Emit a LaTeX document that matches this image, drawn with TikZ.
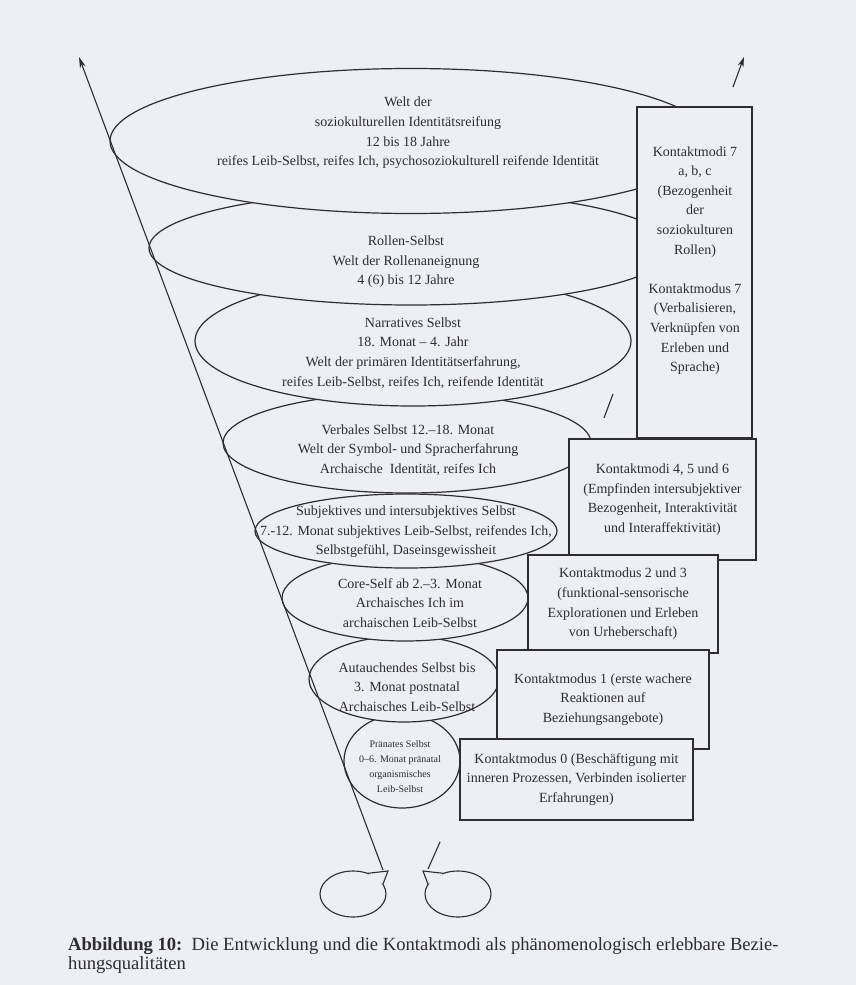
\documentclass[tikz,border=0pt]{standalone}
\usepackage{fontspec}
\setmainfont{Liberation Serif}
\usetikzlibrary{shapes.geometric,arrows.meta}
\definecolor{paper}{RGB}{237,239,245}
\definecolor{ink}{RGB}{45,45,50}
\begin{document}
\begin{tikzpicture}[x=1pt,y=-1pt,
  lay/.style={ellipse,draw=ink,fill=paper,line width=1.2pt,inner sep=0pt,outer sep=0pt},
  lbl/.style={align=center,text=ink,font=\fontsize{14}{19.6}\selectfont,inner sep=0pt},
  smalllbl/.style={align=center,text=ink,font=\fontsize{10}{15}\selectfont,inner sep=0pt},
  modebox/.style={draw=ink,fill=paper,line width=1.2pt,inner sep=0pt,outer sep=0pt,align=center,text=ink,font=\fontsize{14}{19.6}\selectfont},
  cone/.style={draw=ink,line width=1.1pt},
  bubble/.style={ellipse,draw=ink,line width=1.1pt,inner sep=0pt,outer sep=0pt,minimum width=66,minimum height=46},
]
\fill[paper] (0,0) rectangle (856,985);
\useasboundingbox (0,0) rectangle (856,985);

% layers, drawn from the bottom up so the upper ones cover the lower ones
\node[lay,minimum width=116,minimum height=94] (e8) at (402,761) {};
\node[lay,minimum width=190,minimum height=86] (e7) at (404,679) {};
\node[lay,minimum width=246,minimum height=86] (e6) at (405,598) {};
\node[lay,minimum width=302,minimum height=74] (e5) at (406,531) {};
\node[lay,minimum width=368,minimum height=100] (e4) at (407,443) {};
\node[lay,minimum width=436,minimum height=130] (e3) at (413,341) {};
\node[lay,minimum width=524,minimum height=114] (e2) at (411,248) {};
\node[lay,minimum width=602,minimum height=145] (e1) at (411,141) {};

\node[lbl] (t1) at (408,133) {Welt der\\soziokulturellen Identitätsreifung\\12 bis 18 Jahre\\reifes Leib-Selbst, reifes Ich, psychosoziokulturell reifende Identität};
\node[lbl] (t2) at (406,262) {Rollen-Selbst\\Welt der Rollenaneignung\\4 (6) bis 12 Jahre};
\node[lbl] (t3) at (413,353) {Narratives Selbst\\18. Monat – 4. Jahr\\Welt der primären Identitätserfahrung,\\reifes Leib-Selbst, reifes Ich, reifende Identität};
\node[lbl] (t4) at (408,450) {Verbales Selbst 12.–18. Monat\\Welt der Symbol- und Spracherfahrung\\Archaische\ \ Identität, reifes Ich};
\node[lbl] (t5) at (406,532) {Subjektives und intersubjektives Selbst\\7.-12. Monat subjektives Leib-Selbst, reifendes Ich,\\Selbstgefühl, Daseinsgewissheit};
\node[lbl] (t6) at (410,603) {Core-Self ab 2.–3. Monat\\Archaisches Ich im\\archaischen Leib-Selbst};
\node[lbl] (t7) at (407,687) {Autauchendes Selbst bis\\3. Monat postnatal\\Archaisches Leib-Selbst};
\node[smalllbl] (t8) at (400,767) {Pränates Selbst\\0–6. Monat pränatal\\organismisches\\Leib-Selbst};

% contact-mode boxes
\node[modebox,minimum width=115,minimum height=331] (bA) at (694.5,272.5) {};
\node[lbl] (tA) at (695,260.5) {Kontaktmodi 7\\a, b, c\\(Bezogenheit\\der\\soziokulturen\\Rollen)\\[19.6pt]Kontaktmodus 7\\(Verbalisieren,\\Verknüpfen von\\Erleben und\\Sprache)};
\node[modebox,minimum width=187,minimum height=121] (b456) at (662.5,499.5) {Kontaktmodi 4, 5 und 6\\(Empfinden intersubjektiver\\Bezogenheit, Interaktivität\\und Interaffektivität)};
\node[modebox,minimum width=190,minimum height=98] (b23) at (623,604) {Kontaktmodus 2 und 3\\(funktional-sensorische\\Explorationen und Erleben\\von Urheberschaft)};
\node[modebox,minimum width=212,minimum height=99] (b1) at (603,699.5) {Kontaktmodus 1 (erste wachere\\Reaktionen auf\\Beziehungsangebote)};
\node[modebox,minimum width=233,minimum height=81] (b0) at (576.5,779.5) {Kontaktmodus 0 (Beschäftigung mit\\inneren Prozessen, Verbinden isolierter\\Erfahrungen)};

% speech bubbles at the bottom
\node[bubble] (bubL) at (353,894) {};
\node[bubble] (bubR) at (458,894) {};
\coordinate (tipL) at (388,871);
\coordinate (tipR) at (423,871);
\fill[paper] (bubL.55) -- (tipL) -- (bubL.18) -- cycle;
\draw[ink,line width=1.1pt] (bubL.55) -- (tipL) -- (bubL.18);
\fill[paper] (bubR.125) -- (tipR) -- (bubR.162) -- cycle;
\draw[ink,line width=1.1pt] (bubR.125) -- (tipR) -- (bubR.162);

% cone lines
\coordinate (lbot) at (383,870);
\coordinate (ltop) at (79,57);
\draw[cone,-{Stealth[length=11pt,width=6pt]}] (lbot) -- (ltop);
\coordinate (r1) at (440,842);
\coordinate (r2) at (428,869);
\draw[cone] (r2) -- (r1);
\coordinate (s1) at (604,418);
\coordinate (s2) at (613,394);
\draw[cone] (s1) -- (s2);
\coordinate (rtail) at (733,87);
\coordinate (rtop) at (744,57);
\draw[cone,-{Stealth[length=10pt,width=6pt]}] (rtail) -- (rtop);

% caption
\node[anchor=north west,align=left,inner sep=0pt,text=ink,font=\fontsize{18.6}{19.5}\selectfont] (cap) at (68,937) {\textbf{Abbildung 10:}\ \ Die Entwicklung und die Kontaktmodi als phänomenologisch erlebbare Bezie-\\hungsqualitäten};
\end{tikzpicture}
\end{document}
